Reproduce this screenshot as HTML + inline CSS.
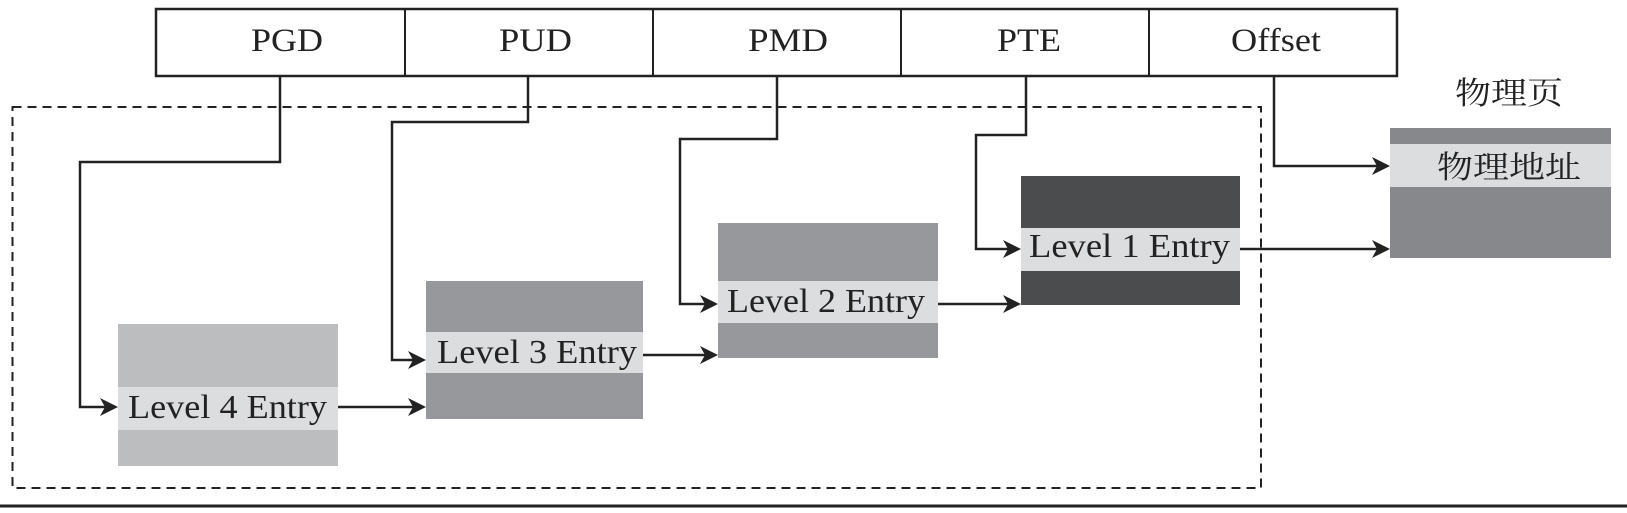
<!DOCTYPE html>
<html><head><meta charset="utf-8"><style>html,body{margin:0;padding:0;background:#fff}</style></head><body>
<svg width="1627" height="508" viewBox="0 0 1627 508" xmlns="http://www.w3.org/2000/svg" font-family="'Liberation Serif','Noto Serif CJK SC',serif">
<defs><marker id="a" markerWidth="8" markerHeight="8" refX="7" refY="4" orient="auto" markerUnits="userSpaceOnUse"><path d="M0,0 L0,0" /></marker></defs>
<rect x="0" y="0" width="1627" height="508" fill="#fff"/>
<!-- top box -->
<rect x="156" y="9" width="1241" height="67" fill="#fff" stroke="#222" stroke-width="2.5"/>
<g stroke="#222" stroke-width="2">
<line x1="405" y1="9" x2="405" y2="76"/><line x1="653" y1="9" x2="653" y2="76"/><line x1="901" y1="9" x2="901" y2="76"/><line x1="1149" y1="9" x2="1149" y2="76"/>
</g>
<g font-size="33" fill="#222">
<text x="251" y="51" textLength="72" lengthAdjust="spacingAndGlyphs">PGD</text>
<text x="499" y="51" textLength="73" lengthAdjust="spacingAndGlyphs">PUD</text>
<text x="748" y="51" textLength="80" lengthAdjust="spacingAndGlyphs">PMD</text>
<text x="997" y="51" textLength="64" lengthAdjust="spacingAndGlyphs">PTE</text>
<text x="1231" y="51" textLength="90" lengthAdjust="spacingAndGlyphs">Offset</text>
</g>
<!-- dashed box -->
<rect x="12.5" y="107" width="1248.5" height="381" fill="none" stroke="#222" stroke-width="2" stroke-dasharray="9,6"/>
<!-- boxes -->
<rect x="118" y="324" width="220" height="142" fill="#bcbdbf"/><rect x="118" y="387" width="220" height="43" fill="#dcdddf"/>
<rect x="426" y="281" width="217" height="138" fill="#97989c"/><rect x="426" y="332" width="217" height="41" fill="#dcdddf"/>
<rect x="718" y="223" width="220" height="135" fill="#97989c"/><rect x="718" y="281" width="220" height="42" fill="#dcdddf"/>
<rect x="1021" y="176" width="219" height="129" fill="#4b4c4e"/><rect x="1021" y="228" width="219" height="43" fill="#dcdddf"/>
<rect x="1390" y="128" width="221" height="130" fill="#87888b"/><rect x="1390" y="144" width="221" height="43" fill="#dcdddf"/>
<g font-size="34" fill="#222">
<text x="128" y="418" textLength="199" lengthAdjust="spacingAndGlyphs">Level 4 Entry</text>
<text x="437" y="363" textLength="200" lengthAdjust="spacingAndGlyphs">Level 3 Entry</text>
<text x="727" y="312" textLength="198" lengthAdjust="spacingAndGlyphs">Level 2 Entry</text>
<text x="1029" y="257" textLength="201" lengthAdjust="spacingAndGlyphs">Level 1 Entry</text>
</g>
<text x="1437" y="178" font-size="31" fill="#222" textLength="144" lengthAdjust="spacingAndGlyphs">物理地址</text>
<text x="1455" y="104" font-size="31" fill="#222" textLength="108" lengthAdjust="spacingAndGlyphs">物理页</text>
<!-- connectors -->
<g fill="none" stroke="#222" stroke-width="2.5">
<polyline points="280,76 280,162 80,162 80,407 106,407"/>
<polyline points="528,76 528,122 392,122 392,360 414,360"/>
<polyline points="777,76 777,139 680,139 680,304 706,304"/>
<polyline points="1026,76 1026,135 976,135 976,249 1009,249"/>
<polyline points="1274,76 1274,166 1378,166"/>
<line x1="338" y1="407" x2="414" y2="407"/>
<line x1="643" y1="355" x2="706" y2="355"/>
<line x1="938" y1="304" x2="1009" y2="304"/>
<line x1="1240" y1="249" x2="1378" y2="249"/>
</g>
<g fill="#222">
<path d="M118,407 L100,398 L105,407 L100,416Z"/>
<path d="M426,407 L408,398 L413,407 L408,416Z"/>
<path d="M426,360 L408,351 L413,360 L408,369Z"/>
<path d="M718,355 L700,346 L705,355 L700,364Z"/>
<path d="M718,304 L700,295 L705,304 L700,313Z"/>
<path d="M1021,304 L1003,295 L1008,304 L1003,313Z"/>
<path d="M1021,249 L1003,240 L1008,249 L1003,258Z"/>
<path d="M1390,249 L1372,240 L1377,249 L1372,258Z"/>
<path d="M1390,166 L1372,157 L1377,166 L1372,175Z"/>
</g>
<line x1="0" y1="506" x2="1627" y2="506" stroke="#222" stroke-width="3"/>
</svg>
</body></html>
